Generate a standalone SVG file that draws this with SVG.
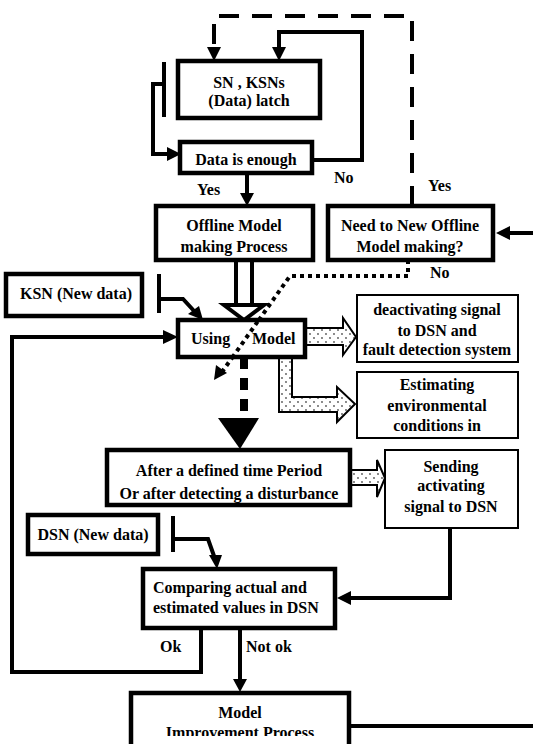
<svg xmlns="http://www.w3.org/2000/svg" width="533" height="744" viewBox="0 0 533 744">
<defs>
<style>
.box{fill:#fff;stroke:#000;stroke-width:4.5}
.tbox{fill:#fff;stroke:#000;stroke-width:2}
.t{font-family:"Liberation Serif","Times New Roman",serif;font-weight:bold;font-size:16px;fill:#000;text-anchor:middle}
.l{font-family:"Liberation Serif","Times New Roman",serif;font-weight:bold;font-size:16px;fill:#000}
.ln{fill:none;stroke:#000;stroke-width:4}
.blk{fill:url(#dots);stroke:#000;stroke-width:2}
</style>
<pattern id="dots" width="8" height="8" patternUnits="userSpaceOnUse">
<rect width="8" height="8" fill="#fff"/>
<circle cx="2" cy="2" r="0.9" fill="#555"/>
<circle cx="6" cy="6" r="0.9" fill="#555"/>
</pattern>
<clipPath id="cut"><rect x="0" y="0" width="533" height="736"/></clipPath>
<clipPath id="usingclip"><rect x="178" y="318" width="127" height="40"/></clipPath>
</defs>
<rect width="533" height="744" fill="#fff"/>

<g id="connectors">
<path class="ln" d="M412,206 V16 H214 V48" stroke-dasharray="20 13"/>
<path d="M207,47 L221,47 L214,61 z" fill="#000"/>
<path class="ln" d="M312,160 H362 V32 H279 V47"/>
<path d="M272,47 L286,47 L279,61 z" fill="#000"/>
<path class="ln" d="M164,62 V117"/>
<path class="ln" d="M164,84 H153 V154 H168"/>
<path d="M167,147 L181,154 L167,161 z" fill="#000"/>
<path class="ln" d="M247,173 V194"/>
<path d="M240,193 L254,193 L247,206 z" fill="#000"/>
<path class="ln" d="M236,260 V305 M252,260 V305"/>
<path d="M224,305 L264,305 L244,320 z" fill="#fff" stroke="#000" stroke-width="4"/>
<path class="ln" d="M159,274 V313"/>
<path class="ln" d="M159,299 H183 L195,312"/>
<path d="M188,314 L199,306 L203,320 z" fill="#000"/>
<path d="M408,260 V276 H290 L222,372" fill="none" stroke="#000" stroke-width="4" stroke-dasharray="4 4"/>
<path d="M214,380 L216,365 L227,373 z" fill="#000"/>
<path d="M244,357 V420" stroke="#000" stroke-width="8" fill="none" stroke-dasharray="12 9"/>
<path d="M218,418 L259,418 L240,449 z" fill="#000"/>
<path class="blk" d="M305,328 H343 V318 L356,337 L343,355 V345 H305 z"/>
<path class="blk" d="M279,357 H292 V397 H337 V387 L355,404 L337,422 V412 H279 z"/>
<path class="blk" d="M350,470 H377 V460 L385,478 L377,497 V485 H350 z"/>
<path class="ln" d="M450,528 V598 H350"/>
<path d="M351,591 L351,605 L337,598 z" fill="#000"/>
<path class="ln" d="M173,516 V552"/>
<path class="ln" d="M173,539 H208 L214,556"/>
<path d="M209,555 L222,555 L217,569 z" fill="#000"/>
<path class="ln" d="M201,628 V672 H12 V337 H164"/>
<path d="M163,330 L163,344 L178,337 z" fill="#000"/>
<path class="ln" d="M240,628 V680"/>
<path d="M233,679 L247,679 L240,692 z" fill="#000"/>
<path class="ln" d="M533,233 H508"/>
<path d="M510,226 L510,240 L496,233 z" fill="#000"/>
<path class="ln" d="M350,726 H533"/>
<text class="l" x="197" y="195">Yes</text>
<text class="l" x="334" y="183">No</text>
<text class="l" x="428" y="191">Yes</text>
<text class="l" x="430" y="278">No</text>
<text class="l" x="160" y="652">Ok</text>
<text class="l" x="246" y="652">Not ok</text>
</g>

<g id="n_latch">
<rect class="box" x="178" y="61" width="142" height="57"/>
<text class="t" x="249" y="88">SN , KSNs</text>
<text class="t" x="249" y="106">(Data) latch</text>
</g>
<g id="n_enough">
<rect class="box" x="180" y="142" width="132" height="31"/>
<text class="t" x="246" y="165">Data is enough</text>
</g>
<g id="n_offline">
<rect class="box" x="156" y="206" width="157" height="54"/>
<text class="t" x="234" y="231">Offline Model</text>
<text class="t" x="234" y="252">making Process</text>
</g>
<g id="n_need">
<rect class="box" x="328" y="206" width="165" height="54"/>
<text class="t" x="410" y="231">Need to New Offline</text>
<text class="t" x="410" y="252">Model making?</text>
</g>
<g id="n_ksn">
<rect class="box" x="6" y="274" width="136" height="42"/>
<text class="t" x="76" y="299">KSN (New data)</text>
</g>
<g id="n_using">
<rect class="box" x="178" y="320" width="127" height="37"/>
<text class="l" y="344"><tspan x="191">Using</tspan><tspan x="252">Model</tspan></text>
</g>
<path d="M290,276 L222,372" stroke="#000" stroke-width="4" stroke-dasharray="4 4" fill="none" clip-path="url(#usingclip)"/>
<g id="n_deact">
<rect class="tbox" x="357" y="295" width="161" height="67"/>
<text class="t" x="437" y="315">deactivating signal</text>
<text class="t" x="437" y="336">to DSN and</text>
<text class="t" x="437" y="355">fault detection system</text>
</g>
<g id="n_estim">
<rect class="tbox" x="357" y="372" width="161" height="66"/>
<text class="t" x="437" y="390">Estimating</text>
<text class="t" x="437" y="411">environmental</text>
<text class="t" x="437" y="431">conditions in</text>
</g>
<g id="n_after">
<rect class="box" x="107" y="450" width="243" height="55"/>
<text class="t" x="229" y="476">After a defined time Period</text>
<text class="t" x="229" y="499">Or after detecting a disturbance</text>
</g>
<g id="n_send">
<rect class="tbox" x="385" y="450" width="133" height="78"/>
<text class="t" x="451" y="472">Sending</text>
<text class="t" x="451" y="491">activating</text>
<text class="t" x="451" y="512">signal to DSN</text>
</g>
<g id="n_dsn">
<rect class="box" x="28" y="515" width="130" height="39"/>
<text class="t" x="93" y="540">DSN (New data)</text>
</g>
<g id="n_compare">
<rect class="box" x="143" y="569" width="192" height="59"/>
<text class="l" x="153" y="593">Comparing actual and</text>
<text class="l" x="153" y="613">estimated values in DSN</text>
</g>
<g id="n_improve">
<path d="M131,746 V693 H349 V746" fill="#fff" stroke="#000" stroke-width="4.5"/>
<g clip-path="url(#cut)">
<text class="t" x="240" y="718">Model</text>
<text class="t" x="240" y="738">Improvement Process</text>
</g>
</g>
</svg>
